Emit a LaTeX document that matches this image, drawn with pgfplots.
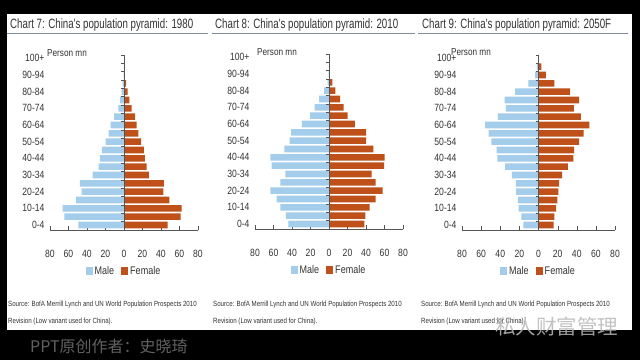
\documentclass[border=0pt]{standalone}
\usepackage{pgfplots}
\pgfplotsset{compat=1.18}
\usepackage{pgfplotstable}
\usepackage{fontspec}
\setmainfont{Liberation Sans}[FakeStretch=0.82]
\newfontfamily\titlefont{Liberation Sans}[FakeStretch=0.72]
\newfontfamily\cjk{Noto Sans CJK SC}
\definecolor{male}{HTML}{A3CDEB}
\definecolor{female}{HTML}{C0501A}
\definecolor{rulec}{HTML}{7F8DA6}
\definecolor{txt}{HTML}{333333}
\definecolor{axc}{HTML}{555555}

% age index: 0 = 0-4, ..., 20 = 100+ ; male values negative
\pgfplotstableread{
age m f
0  -49.4 47.2
1  -64.5 61.3
2  -66.3 62.3
3  -51.9 49.0
4  -45.8 42.5
5  -47.6 43.2
6  -33.9 27.0
7  -27.4 24.5
8  -26.0 22.7
9  -24.0 21.6
10 -20.0 18.4
11 -16.6 15.5
12 -14.4 13.7
13 -10.8 11.9
14 -6.1  8.3
15 -4.3  5.8
16 -2.5  4.0
17 -1.4  2.2
18 -0.5  0.8
19 -0.1  0.2
20 0     0
}\dataA
\pgfplotstableread{
age m f
0  -44.0 38.2
1  -46.5 39.3
2  -52.6 44.0
3  -56.6 50.5
4  -63.4 58.0
5  -52.6 50.5
6  -47.2 46.1
7  -62.0 59.5
8  -63.4 60.2
9  -48.3 48.0
10 -42.5 40.0
11 -41.0 40.0
12 -29.2 28.1
13 -20.5 20.2
14 -15.5 15.8
15 -10.8 12.0
16 -5.2  7.0
17 -1.5  3.6
18 -0.4  1.0
19 -0.1  0.2
20 0     0
}\dataB
\pgfplotstableread{
age m f
0  -15.7 15.7
1  -18.0 16.7
2  -20.9 18.4
3  -21.6 19.8
4  -23.3 20.9
5  -23.7 21.6
6  -27.8 24.7
7  -34.8 30.6
8  -43.1 36.5
9  -43.8 37.2
10 -49.4 42.4
11 -52.2 47.3
12 -55.7 53.2
13 -42.4 44.2
14 -34.0 36.9
15 -35.5 42.4
16 -24.4 33.0
17 -10.5 16.7
18 -3.5  7.7
19 -1.7  2.9
20 -0.2  0.5
}\dataC

\pgfplotsset{pyr/.style={
  scale only axis, height=175pt,
  xmin=-80, xmax=80, ymin=-0.6, ymax=20.4,
  axis x line=bottom, axis y line=left,
  x axis line style={-, draw=axc},
  y axis line style={draw=none},
  xtick={-80,-60,...,80},
  xticklabels={80,60,40,20,0,20,40,60,80},
  ytick={0,2,...,20},
  yticklabels={0-4,10-14,20-24,30-34,40-44,50-54,60-64,70-74,80-84,90-94,100+},
  ytick style={draw=none},
  xtick style={draw=axc},
  tick align=inside, major tick length=4pt,
  /pgf/number format/assume math mode=true,
  tick label style={font=\fontsize{10.5}{12}\selectfont, text=txt},
  xticklabel style={yshift=-17pt},
  yticklabel style={xshift=-2pt},
  legend style={at={(0.5,-0.234)}, anchor=center, draw=none, fill=none,
    legend columns=2, font=\fontsize{11}{13}\selectfont, text=txt,
    /tikz/every even column/.append style={column sep=5pt},
    inner sep=0pt},
}}
\newcommand{\midaxis}{%
  \draw[axc] (axis cs:0,-0.6) -- (axis cs:0,20.4);
  \pgfplotsinvokeforeach{0,...,20}{\draw[axc] (axis cs:0,##1+0.4) -- ++(-3pt,0pt);}
}

\begin{document}
\begin{tikzpicture}
\fill[black] (0pt,0pt) rectangle (640pt,360pt);
\fill[white] (7pt,30pt) rectangle (632pt,346pt);
% title rules
\draw[rulec, line width=1pt] (7pt,327pt) -- (208pt,327pt);
\draw[rulec, line width=1pt] (212pt,327pt) -- (415pt,327pt);
\draw[rulec, line width=1pt] (418pt,327pt) -- (628pt,327pt);
\node[anchor=west, inner sep=0pt, text=txt, font=\titlefont\fontsize{13.5}{15}\selectfont] at (10pt,335pt) {Chart 7: China's population pyramid: 1980};
\node[anchor=west, inner sep=0pt, text=txt, font=\titlefont\fontsize{13.5}{15}\selectfont] at (215pt,335pt) {Chart 8: China's population pyramid: 2010};
\node[anchor=west, inner sep=0pt, text=txt, font=\titlefont\fontsize{13.5}{15}\selectfont] at (422pt,335pt) {Chart 9: China's population pyramid: 2050F};

\begin{axis}[pyr, at={(50pt,130pt)}, anchor=south west, width=148pt]
\addplot[xbar, fill=male, draw=none, bar width=6.6pt, bar shift=0pt,
  legend image code/.code={\fill[male] (0pt,-4.5pt) rectangle (7pt,4pt);}] table[x=m,y=age]{\dataA};
\addplot[xbar, fill=female, draw=none, bar width=6.6pt, bar shift=0pt,
  legend image code/.code={\fill[female] (0pt,-4.5pt) rectangle (7pt,4pt);}] table[x=f,y=age]{\dataA};
\legend{Male,Female}
\midaxis
\end{axis}

\begin{axis}[pyr, at={(255pt,131pt)}, anchor=south west, width=148pt]
\addplot[xbar, fill=male, draw=none, bar width=6.6pt, bar shift=0pt,
  legend image code/.code={\fill[male] (0pt,-4.5pt) rectangle (7pt,4pt);}] table[x=m,y=age]{\dataB};
\addplot[xbar, fill=female, draw=none, bar width=6.6pt, bar shift=0pt,
  legend image code/.code={\fill[female] (0pt,-4.5pt) rectangle (7pt,4pt);}] table[x=f,y=age]{\dataB};
\legend{Male,Female}
\midaxis
\end{axis}

\begin{axis}[pyr, at={(462pt,130pt)}, anchor=south west, width=153pt]
\addplot[xbar, fill=male, draw=none, bar width=6.6pt, bar shift=0pt,
  legend image code/.code={\fill[male] (0pt,-4.5pt) rectangle (7pt,4pt);}] table[x=m,y=age]{\dataC};
\addplot[xbar, fill=female, draw=none, bar width=6.6pt, bar shift=0pt,
  legend image code/.code={\fill[female] (0pt,-4.5pt) rectangle (7pt,4pt);}] table[x=f,y=age]{\dataC};
\legend{Male,Female}
\midaxis
\end{axis}

% Person mn
\node[anchor=west, inner sep=0pt, text=txt, font=\fontsize{10}{12}\selectfont] at (47pt,307pt) {Person mn};
\node[anchor=west, inner sep=0pt, text=txt, font=\fontsize{10}{12}\selectfont] at (257pt,308pt) {Person mn};
\node[anchor=west, inner sep=0pt, text=txt, font=\fontsize{10}{12}\selectfont] at (451pt,308pt) {Person mn};

% sources
\foreach \sx in {8,213,421}{
  \node[anchor=west, inner sep=0pt, text=txt, font=\fontsize{7.5}{9}\selectfont] at (\sx pt,55pt) {Source: BofA Merrill Lynch and UN World Population Prospects 2010};
  \node[anchor=west, inner sep=0pt, text=txt, font=\fontsize{7.5}{9}\selectfont] at (\sx pt,38pt) {Revision (Low variant used for China).};
}

% footer
\node[anchor=west, inner sep=0pt, text=black!62!white, font=\cjk\fontsize{16}{18}\selectfont] at (30pt,14pt) {PPT原创作者：史晓琦};
\node[anchor=west, inner sep=0pt, text=white!72!black, opacity=0.85, font=\cjk\fontsize{20.5}{22}\selectfont] at (495pt,33pt) {私人财富管理};
\end{tikzpicture}
\end{document}
